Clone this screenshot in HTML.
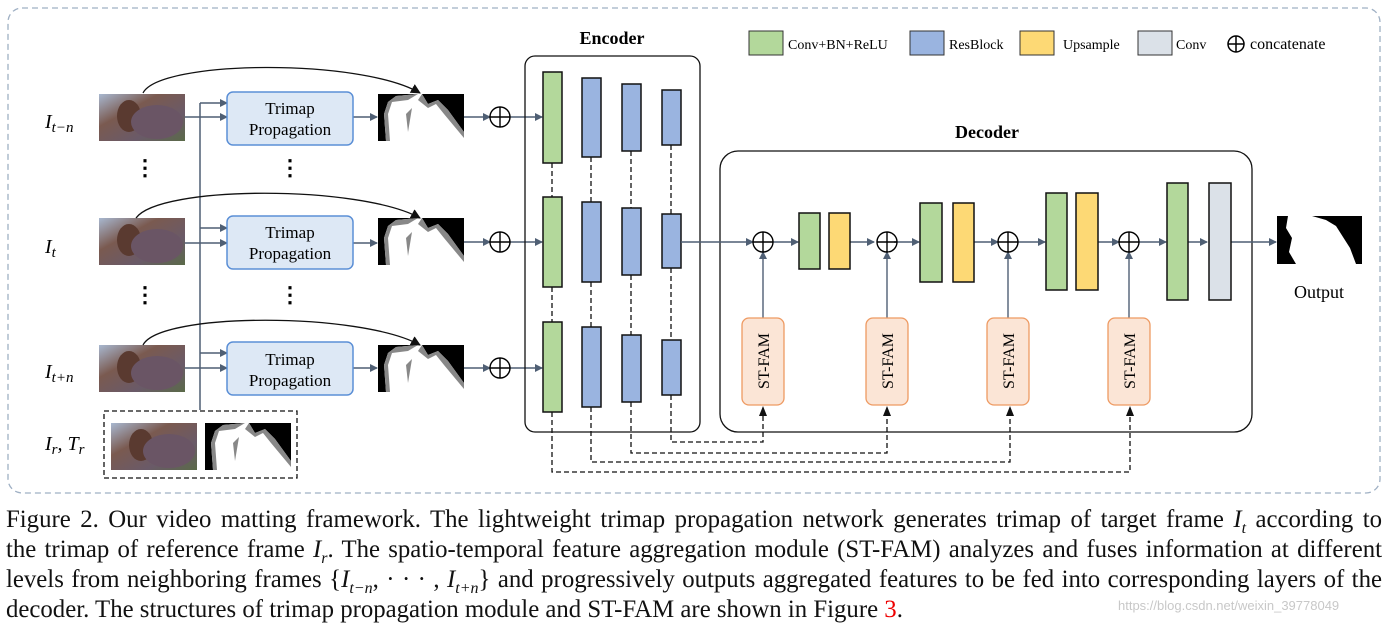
<!DOCTYPE html>
<html><head><meta charset="utf-8"><style>
body{margin:0;background:#fff;width:1393px;height:624px;overflow:hidden;font-family:"Liberation Serif",serif}
.cap{position:absolute;left:6px;width:1376px;font-size:24.8px;line-height:30px;color:#111}
.cap div{text-align:justify;text-align-last:justify;white-space:nowrap;height:30px}
.cap div.last{text-align-last:left}
i{font-style:italic}
</style></head><body>
<svg width="1393" height="500" style="position:absolute;left:0;top:0" font-family="Liberation Serif,serif">
<defs>
<marker id="a" markerWidth="8" markerHeight="8" refX="7" refY="4" orient="auto" markerUnits="userSpaceOnUse"><path d="M0,0L8,4L0,8z" fill="#4f5f74"/></marker>
<marker id="k" markerWidth="10" markerHeight="10" refX="9" refY="5" orient="auto" markerUnits="userSpaceOnUse"><path d="M0,0L10,5L0,10z" fill="#111"/></marker>
<linearGradient id="cam" x1="0" y1="0" x2="1" y2="1"><stop offset="0" stop-color="#a8b8d0"/><stop offset="0.35" stop-color="#7a5a50"/><stop offset="0.7" stop-color="#6a5a68"/><stop offset="1" stop-color="#5a6a48"/></linearGradient>
<g id="camel"><rect width="86" height="47" fill="url(#cam)"/><ellipse cx="30" cy="22" rx="12" ry="16" fill="#5a3a30"/><ellipse cx="58" cy="28" rx="26" ry="17" fill="#6a5565"/></g>
</defs>
<rect x="8" y="8" width="1372" height="485" rx="14" fill="none" stroke="#9fb0c4" stroke-dasharray="6,4" stroke-width="1.3"/>
<g font-size="14">
<rect x="749" y="31" width="34" height="24" fill="#b3d89b" stroke="#333"/><text x="788" y="49">Conv+BN+ReLU</text>
<rect x="910" y="31" width="34" height="24" fill="#9ab4e0" stroke="#333"/><text x="949" y="49">ResBlock</text>
<rect x="1020" y="31" width="34" height="24" fill="#fdd975" stroke="#333"/><text x="1063" y="49">Upsample</text>
<rect x="1138" y="31" width="34" height="24" fill="#dbe1e8" stroke="#333"/><text x="1176" y="49">Conv</text>
<circle cx="1236" cy="44" r="8" fill="none" stroke="#000" stroke-width="1.5"/><path d="M1228,44h16M1236,36v16" stroke="#000" stroke-width="1.5"/><text x="1250" y="49" font-size="16">concatenate</text>
</g>
<g font-size="20" font-style="italic">
<text x="45" y="128">I<tspan font-size="15" dy="4">t−n</tspan></text>
<text x="45" y="253">I<tspan font-size="15" dy="4">t</tspan></text>
<text x="45" y="378">I<tspan font-size="15" dy="4">t+n</tspan></text>
<text x="45" y="450">I<tspan font-size="15" dy="4">r</tspan><tspan dy="-4">, T</tspan><tspan font-size="15" dy="4">r</tspan></text>
</g>
<g font-size="22" font-weight="bold"><text x="145" y="175" text-anchor="middle">⋮</text><text x="145" y="302" text-anchor="middle">⋮</text><text x="290" y="175" text-anchor="middle">⋮</text><text x="290" y="302" text-anchor="middle">⋮</text></g>
<use href="#camel" x="99" y="94"/><use href="#camel" x="99" y="218"/><use href="#camel" x="99" y="345"/>
<rect x="104" y="411" width="193" height="67" fill="none" stroke="#111" stroke-dasharray="5,3" stroke-width="1.3"/>
<use href="#camel" x="111" y="423"/>
<g transform="translate(205,423)"><rect width="86" height="47" fill="#fff"/><polygon points="0,0 40,0 18,2 10,8 6,20 8,47 0,47" fill="#000"/><polygon points="18,2 40,0 30,6 14,8 10,20 12,47 8,47 6,20 10,8" fill="#888"/><polygon points="44,0 86,0 86,38 70,16 60,6 50,10" fill="#000"/><polygon points="44,0 50,10 60,6 70,16 86,38 86,44 66,20 58,10 50,14 40,6" fill="#888"/><polygon points="28,20 34,14 30,38" fill="#888"/></g>
<path d="M200,410V103" stroke="#4f5f74" stroke-width="1.5" fill="none"/>
<g stroke="#4f5f74" stroke-width="1.5" fill="none" marker-end="url(#a)">
<path d="M200,103H227"/><path d="M185,117H227"/><path d="M200,228H227"/><path d="M185,243H227"/><path d="M200,353H227"/><path d="M185,368H227"/>
<path d="M353,117H377"/><path d="M353,243H377"/><path d="M353,368H377"/>
<path d="M464,117H490"/><path d="M464,242H490"/><path d="M464,368H490"/>
<path d="M510,117H542"/><path d="M510,242H542"/><path d="M510,368H542"/>
</g>
<g fill="#dde8f5" stroke="#5b8fd6" stroke-width="1.5">
<rect x="227" y="92" width="126" height="53" rx="6"/><rect x="227" y="216" width="126" height="53" rx="6"/><rect x="227" y="342" width="126" height="53" rx="6"/>
</g>
<g font-size="17" text-anchor="middle">
<text x="290" y="114">Trimap</text><text x="290" y="135">Propagation</text>
<text x="290" y="238">Trimap</text><text x="290" y="259">Propagation</text>
<text x="290" y="365">Trimap</text><text x="290" y="386">Propagation</text>
</g>
<g transform="translate(378,94)"><rect width="86" height="47" fill="#fff"/><polygon points="0,0 40,0 18,2 10,8 6,20 8,47 0,47" fill="#000"/><polygon points="18,2 40,0 30,6 14,8 10,20 12,47 8,47 6,20 10,8" fill="#888"/><polygon points="44,0 86,0 86,38 70,16 60,6 50,10" fill="#000"/><polygon points="44,0 50,10 60,6 70,16 86,38 86,44 66,20 58,10 50,14 40,6" fill="#888"/><polygon points="28,20 34,14 30,38" fill="#888"/></g>
<g transform="translate(378,218)"><rect width="86" height="47" fill="#fff"/><polygon points="0,0 40,0 18,2 10,8 6,20 8,47 0,47" fill="#000"/><polygon points="18,2 40,0 30,6 14,8 10,20 12,47 8,47 6,20 10,8" fill="#888"/><polygon points="44,0 86,0 86,38 70,16 60,6 50,10" fill="#000"/><polygon points="44,0 50,10 60,6 70,16 86,38 86,44 66,20 58,10 50,14 40,6" fill="#888"/><polygon points="28,20 34,14 30,38" fill="#888"/></g>
<g transform="translate(378,345)"><rect width="86" height="47" fill="#fff"/><polygon points="0,0 40,0 18,2 10,8 6,20 8,47 0,47" fill="#000"/><polygon points="18,2 40,0 30,6 14,8 10,20 12,47 8,47 6,20 10,8" fill="#888"/><polygon points="44,0 86,0 86,38 70,16 60,6 50,10" fill="#000"/><polygon points="44,0 50,10 60,6 70,16 86,38 86,44 66,20 58,10 50,14 40,6" fill="#888"/><polygon points="28,20 34,14 30,38" fill="#888"/></g>
<g stroke="#111" stroke-width="1.3" fill="none" marker-end="url(#k)">
<path d="M143,93 C160,60 360,58 420,93"/><path d="M136,218 C160,185 360,185 420,218"/><path d="M143,345 C160,312 360,312 420,345"/>
</g>
<g fill="none" stroke="#000" stroke-width="1.4">
<circle cx="500" cy="117" r="10"/><path d="M490,117h20M500,107v20"/>
<circle cx="500" cy="242" r="10"/><path d="M490,242h20M500,232v20"/>
<circle cx="500" cy="368" r="10"/><path d="M490,368h20M500,358v20"/>
</g>
<text x="612" y="44" font-size="18" font-weight="bold" text-anchor="middle">Encoder</text>
<rect x="525" y="56" width="175" height="376" rx="10" fill="none" stroke="#111" stroke-width="1.3"/>
<g stroke="#111" stroke-width="1.3" stroke-dasharray="5,3" fill="none">
<path d="M552,163V197M552,287V322M591,157V202M591,282V327M631,151V208M631,275V335M671,145V214M671,268V340"/>
<path d="M671,395V442H763V415"/><path d="M631,402V453H887V415"/><path d="M591,407V462H1010V415"/><path d="M552,412V472H1130V415"/>
</g>
<g fill="#111"><path d="M759,416l4,-10l4,10z"/><path d="M883,416l4,-10l4,10z"/><path d="M1006,416l4,-10l4,10z"/><path d="M1126,416l4,-10l4,10z"/></g>
<g stroke="#111" stroke-width="1.5">
<g fill="#b3d89b"><rect x="543" y="72" width="19" height="91"/><rect x="543" y="197" width="19" height="90"/><rect x="543" y="322" width="19" height="90"/></g>
<g fill="#9ab4e0"><rect x="582" y="78" width="19" height="79"/><rect x="582" y="202" width="19" height="80"/><rect x="582" y="327" width="19" height="80"/>
<rect x="622" y="84" width="19" height="67"/><rect x="622" y="208" width="19" height="67"/><rect x="622" y="335" width="19" height="67"/>
<rect x="662" y="90" width="19" height="55"/><rect x="662" y="214" width="19" height="54"/><rect x="662" y="340" width="19" height="55"/></g>
</g>
<text x="987" y="138" font-size="18" font-weight="bold" text-anchor="middle">Decoder</text>
<rect x="720" y="151" width="532" height="281" rx="18" fill="none" stroke="#111" stroke-width="1.3"/>
<g stroke="#4f5f74" stroke-width="1.4" fill="none" marker-end="url(#a)">
<path d="M681,242H753"/><path d="M773,242H798"/><path d="M850,242H874"/><path d="M894,242H919"/><path d="M974,242H998"/><path d="M1018,242H1045"/><path d="M1098,242H1119"/><path d="M1139,242H1166"/><path d="M1188,242H1207"/><path d="M1231,242H1276"/>
<path d="M763,318V252"/><path d="M887,318V252"/><path d="M1008,318V252"/><path d="M1129,318V252"/>
</g>
<g fill="none" stroke="#000" stroke-width="1.4">
<circle cx="763" cy="242" r="10"/><path d="M753,242h20M763,232v20"/>
<circle cx="887" cy="242" r="10"/><path d="M877,242h20M887,232v20"/>
<circle cx="1008" cy="242" r="10"/><path d="M998,242h20M1008,232v20"/>
<circle cx="1129" cy="242" r="10"/><path d="M1119,242h20M1129,232v20"/>
</g>
<g stroke="#111" stroke-width="1.5">
<rect x="799" y="213" width="21" height="56" fill="#b3d89b"/><rect x="829" y="213" width="21" height="56" fill="#fdd975"/>
<rect x="920" y="203" width="22" height="79" fill="#b3d89b"/><rect x="953" y="203" width="21" height="79" fill="#fdd975"/>
<rect x="1046" y="193" width="21" height="97" fill="#b3d89b"/><rect x="1076" y="193" width="22" height="97" fill="#fdd975"/>
<rect x="1167" y="183" width="21" height="117" fill="#b3d89b"/><rect x="1209" y="183" width="22" height="117" fill="#dbe1e8"/>
</g>
<g fill="#fbe5d6" stroke="#ee9a62" stroke-width="1.3">
<rect x="742" y="318" width="42" height="87" rx="7"/><rect x="866" y="318" width="42" height="87" rx="7"/><rect x="987" y="318" width="42" height="87" rx="7"/><rect x="1108" y="318" width="42" height="87" rx="7"/>
</g>
<g font-size="16" text-anchor="middle">
<text transform="translate(769,361) rotate(-90)">ST-FAM</text><text transform="translate(893,361) rotate(-90)">ST-FAM</text><text transform="translate(1014,361) rotate(-90)">ST-FAM</text><text transform="translate(1135,361) rotate(-90)">ST-FAM</text>
</g>
<rect x="1277" y="216" width="85" height="48" fill="#fff"/>
<polygon points="1277,216 1288,216 1286,228 1292,238 1289,252 1296,264 1277,264" fill="#000"/>
<polygon points="1312,216 1362,216 1362,264 1356,264 1350,248 1336,226 1326,220" fill="#000"/>
<text x="1319" y="298" font-size="18" text-anchor="middle">Output</text>
</svg>
<div class="cap" style="top:505px">
<div>Figure 2. Our video matting framework. The lightweight trimap propagation network generates trimap of target frame <i>I<sub style="font-size:16px">t</sub></i> according to</div>
<div>the trimap of reference frame <i>I<sub style="font-size:16px">r</sub></i>. The spatio-temporal feature aggregation module (ST-FAM) analyzes and fuses information at different</div>
<div>levels from neighboring frames {<i>I<sub style="font-size:16px">t−n</sub></i>, · · · , <i>I<sub style="font-size:16px">t+n</sub></i>} and progressively outputs aggregated features to be fed into corresponding layers of the</div>
<div class="last">decoder. The structures of trimap propagation module and ST-FAM are shown in Figure <span style="color:#e00">3</span>.</div>
</div>
<div style="position:absolute;left:1118px;top:598px;font-family:'Liberation Sans',sans-serif;font-size:13px;color:#c8c8c8">https://blog.csdn.net/weixin_39778049</div>
</body></html>
